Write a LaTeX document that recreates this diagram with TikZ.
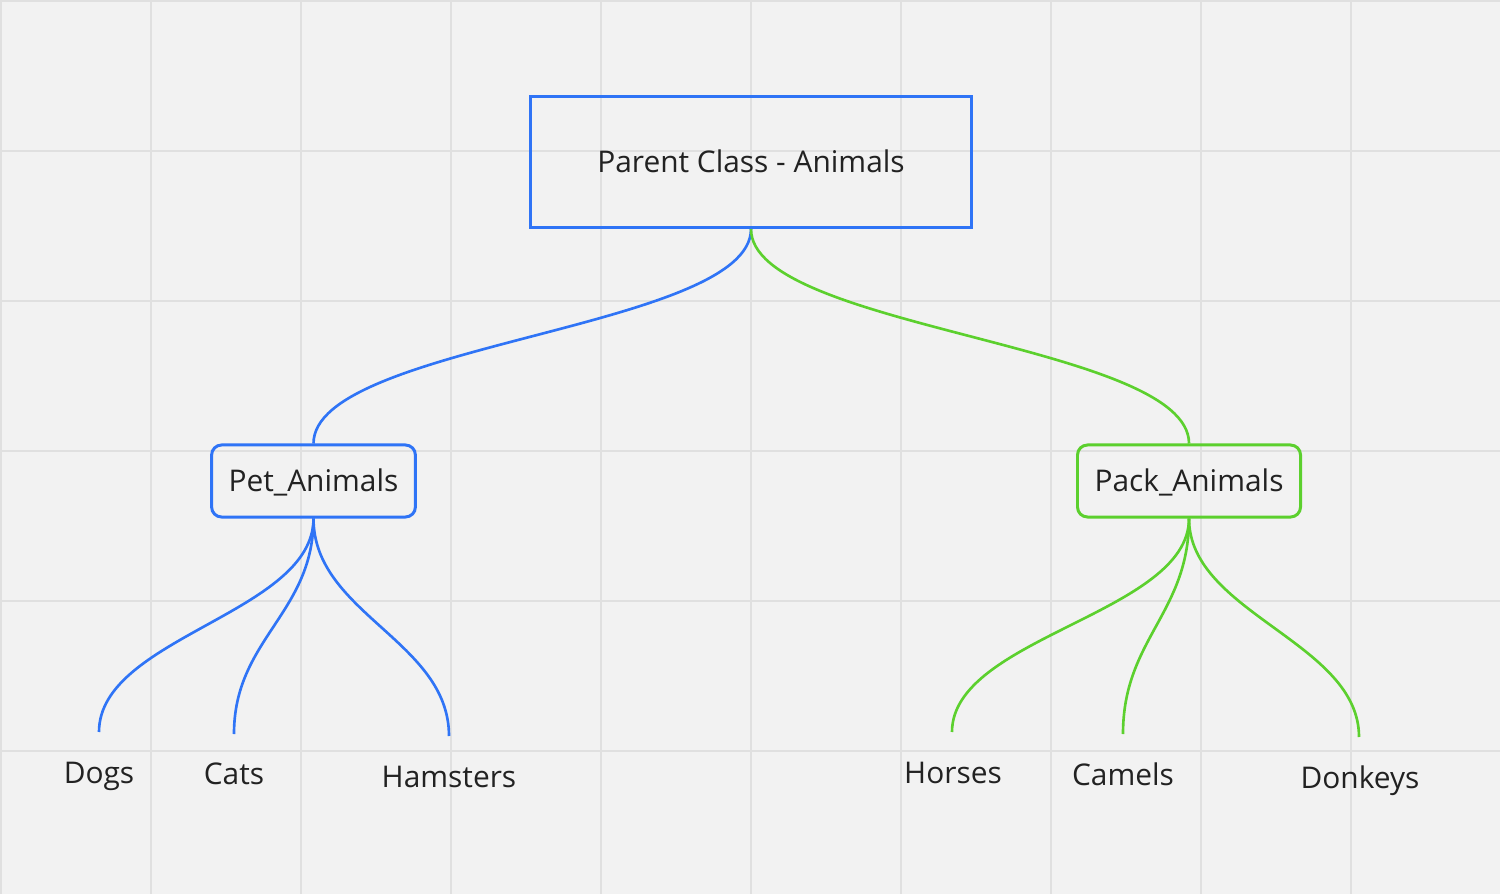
\documentclass[tikz,border=0pt]{standalone}
\usepackage{fontspec}
\setmainfont{Open Sans}
\usetikzlibrary{positioning}

\definecolor{boardgray}{HTML}{F2F2F2}
\definecolor{gridgray}{HTML}{E0E0E0}
\definecolor{classblue}{HTML}{2F74F6}
\definecolor{classgreen}{HTML}{5CD02E}
\definecolor{inkgray}{HTML}{222222}

\tikzset{
    classbox/.style={draw, line width=0.85pt, text=inkgray,
        text height=6.1pt, text depth=0pt,
        font=\fontsize{8.5pt}{10pt}\selectfont},
    subclass/.style={classbox, rounded corners=0.1cm,
        minimum height=0.72cm, inner xsep=0.17cm},
    leaf/.style={text=inkgray, anchor=base,
        font=\fontsize{8.5pt}{10pt}\selectfont},
    bluelink/.style={draw=classblue, line width=0.75pt},
    greenlink/.style={draw=classgreen, line width=0.75pt}
}

\begin{document}
\begin{tikzpicture}[x=0.01cm, y=-0.01cm]
    % board and grid
    \fill [boardgray] (0,0) rectangle (1500,894);
    \useasboundingbox (0,0) rectangle (1500,894);
    \foreach \gx in {1,151,...,1351}
        \draw [gridgray, line width=0.4pt] (\gx,0) -- (\gx,894);
    \foreach \gy in {1,151,...,751}
        \draw [gridgray, line width=0.4pt] (0,\gy) -- (1500,\gy);

    \node [classbox, draw=classblue,
        minimum width=4.41cm,
        minimum height=1.31cm
    ] (animals) at (751,162) {Parent Class - Animals};

    \node [subclass, draw=classblue] (pet) at (313.5,481) {Pet\_Animals};
    \node [subclass, draw=classgreen] (pack) at (1189,481) {Pack\_Animals};

    % leaf labels
    \node [leaf] (dogs) at (99,783) {Dogs};
    \node [leaf] (cats) at (234,784) {Cats};
    \node [leaf] (hamsters) at (449,787) {Hamsters};
    \node [leaf] (horses) at (953,783) {Horses};
    \node [leaf] (camels) at (1123,785) {Camels};
    \node [leaf] (donkeys) at (1360,788) {Donkeys};

    % free ends of the branches
    \coordinate (dogsend) at (99,732);
    \coordinate (catsend) at (234,734);
    \coordinate (hamstersend) at (449,736);
    \coordinate (horsesend) at (952,732);
    \coordinate (camelsend) at (1123,734);
    \coordinate (donkeysend) at (1359,737);

    % branches
    \draw [bluelink] (animals.south) .. controls +(0,100) and +(0,-100) .. (pet.north);
    \draw [greenlink] (animals.south) .. controls +(0,100) and +(0,-100) .. (pack.north);

    \draw [bluelink] (pet.south) .. controls +(0,95) and +(0,-95) .. (dogsend);
    \draw [bluelink] (pet.south) .. controls +(0,95) and +(0,-95) .. (catsend);
    \draw [bluelink] (pet.south) .. controls +(0,95) and +(0,-95) .. (hamstersend);

    \draw [greenlink] (pack.south) .. controls +(0,95) and +(0,-95) .. (horsesend);
    \draw [greenlink] (pack.south) .. controls +(0,95) and +(0,-95) .. (camelsend);
    \draw [greenlink] (pack.south) .. controls +(0,95) and +(0,-95) .. (donkeysend);
\end{tikzpicture}
\end{document}
